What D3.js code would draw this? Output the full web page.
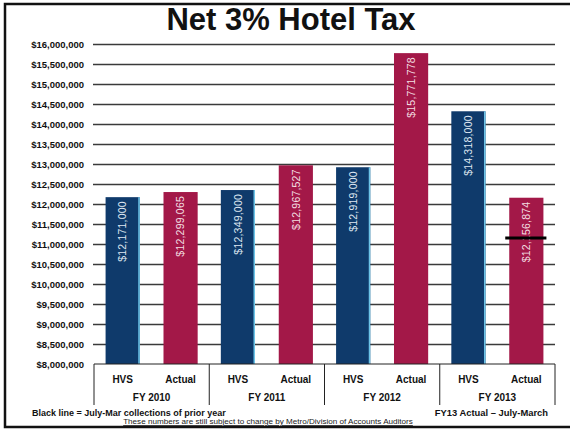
<!DOCTYPE html>
<html>
<head>
<meta charset="utf-8">
<script src="https://cdn.jsdelivr.net/npm/d3@7"></script>
<style>
  body { margin: 0; background: #fff; }
  svg { display: block; font-family: "Liberation Sans", Arial, sans-serif; }
</style>
</head>
<body>
<svg id="chart" width="570" height="429"></svg>
<script>
var years = ["FY 2010", "FY 2011", "FY 2012", "FY 2013"];
var seriesNames = ["HVS", "Actual"];
var hvsValues = [12171000, 12349000, 12919000, 14318000];
var actualValues = [12299065, 12967527, 15771778, 12156874];
// black line: July-Mar collections of prior year (only shown on FY 2013 Actual)
var priorYearMarkers = [{year: "FY 2013", series: "Actual", value: 11150000}];
var yTicks = d3.range(8000000, 16000001, 500000);

var COLORS = {HVS: "#0f3a6b", Actual: "#a31848"};
var LABEL_COLORS = {HVS: "#dfe8f2", Actual: "#f3dfe2"};

var svg = d3.select("#chart");

var y = d3.scaleLinear().domain([8000000, 16000000]).range([364, 44]);
var x0 = d3.scaleBand().domain(years).range([94, 555]).padding(0);
var x1 = d3.scaleBand().domain(seriesNames).range([0, x0.bandwidth()])
    .paddingInner(0.41).paddingOuter(0.2);

var money = function (v) { return "$" + d3.format(",")(v); };

var data = [];
years.forEach(function (yr, i) {
    data.push({year: yr, series: "HVS", value: hvsValues[i]});
    data.push({year: yr, series: "Actual", value: actualValues[i]});
});

// frame
svg.append("path")
    .attr("d", "M570,4 H5 V427 H570")
    .attr("fill", "none")
    .attr("stroke", "#111")
    .attr("stroke-width", 2.5);

// title
svg.append("text")
    .attr("x", 291).attr("y", 30)
    .attr("text-anchor", "middle")
    .style("font-size", "31px").style("font-weight", "bold")
    .attr("fill", "#111")
    .text("Net 3% Hotel Tax");

// gridlines + y labels
var yAxis = d3.axisLeft(y).tickValues(yTicks).tickSize(0).tickPadding(9)
    .tickFormat(money);
var gy = svg.append("g").attr("transform", "translate(93,0)").call(yAxis);
gy.select(".domain").remove();
gy.selectAll("text")
    .style("font-size", "9.5px").style("font-weight", "bold")
    .attr("fill", "#111");
gy.selectAll(".tick").filter(function (d) { return d > 8000000; })
    .append("line")
    .attr("x1", 0).attr("x2", 555 - 93)
    .attr("stroke", "#3a3a3a").attr("stroke-width", 1.3);

// bars
var bars = svg.append("g").selectAll("g.bar").data(data).enter()
    .append("g").attr("class", "bar");

bars.append("rect")
    .attr("x", function (d) { return x0(d.year) + x1(d.series); })
    .attr("y", function (d) { return y(d.value); })
    .attr("width", x1.bandwidth())
    .attr("height", function (d) { return y(8000000) - y(d.value); })
    .attr("fill", function (d) { return COLORS[d.series]; });

// light edge on the HVS bars (scan look)
bars.filter(function (d) { return d.series === "HVS"; })
    .append("rect")
    .attr("x", function (d) { return x0(d.year) + x1(d.series) + x1.bandwidth() - 1.5; })
    .attr("y", function (d) { return y(d.value); })
    .attr("width", 1.5)
    .attr("height", function (d) { return y(8000000) - y(d.value); })
    .attr("fill", "#6cc4e8");

bars.append("text")
    .attr("transform", function (d) {
        var cx = x0(d.year) + x1(d.series) + x1.bandwidth() / 2;
        return "translate(" + cx + "," + (y(d.value) + 4) + ") rotate(-90)";
    })
    .attr("text-anchor", "end")
    .attr("dy", "0.35em")
    .style("font-size", "10.5px")
    .style("letter-spacing", "0.2px")
    .attr("fill", function (d) { return LABEL_COLORS[d.series]; })
    .text(function (d) { return money(d.value); });

// prior-year black line
svg.append("g").selectAll("line").data(priorYearMarkers).enter()
    .append("line")
    .attr("x1", function (d) { return x0(d.year) + x1(d.series) - 4; })
    .attr("x2", function (d) { return x0(d.year) + x1(d.series) + x1.bandwidth() + 3; })
    .attr("y1", function (d) { return y(d.value); })
    .attr("y2", function (d) { return y(d.value); })
    .attr("stroke", "#000").attr("stroke-width", 2.8);

// category axis (two levels)
var gx = svg.append("g");
gx.append("line")
    .attr("x1", 94).attr("x2", 555).attr("y1", 364).attr("y2", 364)
    .attr("stroke", "#222").attr("stroke-width", 1);
gx.selectAll("line.sep").data(years.concat(["end"])).enter()
    .append("line").attr("class", "sep")
    .attr("x1", function (d) { return d === "end" ? 555 : x0(d); })
    .attr("x2", function (d) { return d === "end" ? 555 : x0(d); })
    .attr("y1", 364).attr("y2", 405)
    .attr("stroke", "#222").attr("stroke-width", 1);

var sub = gx.selectAll("g.yr").data(years).enter().append("g")
    .attr("transform", function (d) { return "translate(" + x0(d) + ",0)"; });
sub.selectAll("text.s").data(seriesNames).enter()
    .append("text").attr("class", "s")
    .attr("x", function (s) { return x1(s) + x1.bandwidth() / 2; })
    .attr("y", 383)
    .attr("text-anchor", "middle")
    .style("font-size", "10px").style("font-weight", "bold")
    .attr("fill", "#111")
    .text(function (s) { return s; });
sub.append("text")
    .attr("x", x0.bandwidth() / 2).attr("y", 401)
    .attr("text-anchor", "middle")
    .style("font-size", "10px").style("font-weight", "bold")
    .attr("fill", "#111")
    .text(function (d) { return d; });

// footer notes
svg.append("text")
    .attr("x", 32).attr("y", 416)
    .style("font-size", "9px").style("font-weight", "bold")
    .attr("fill", "#111")
    .text("Black line = July-Mar collections of prior year");
svg.append("text")
    .attr("x", 548).attr("y", 416)
    .attr("text-anchor", "end")
    .style("font-size", "9.4px").style("font-weight", "bold")
    .attr("fill", "#111")
    .text("FY13 Actual \u2013 July-March");
svg.append("text")
    .attr("x", 268).attr("y", 424)
    .attr("text-anchor", "middle")
    .style("font-size", "8.1px")
    .style("text-decoration", "underline")
    .attr("fill", "#222")
    .text("These numbers are still subject to change by Metro/Division of Accounts Auditors");
</script>
</body>
</html>
